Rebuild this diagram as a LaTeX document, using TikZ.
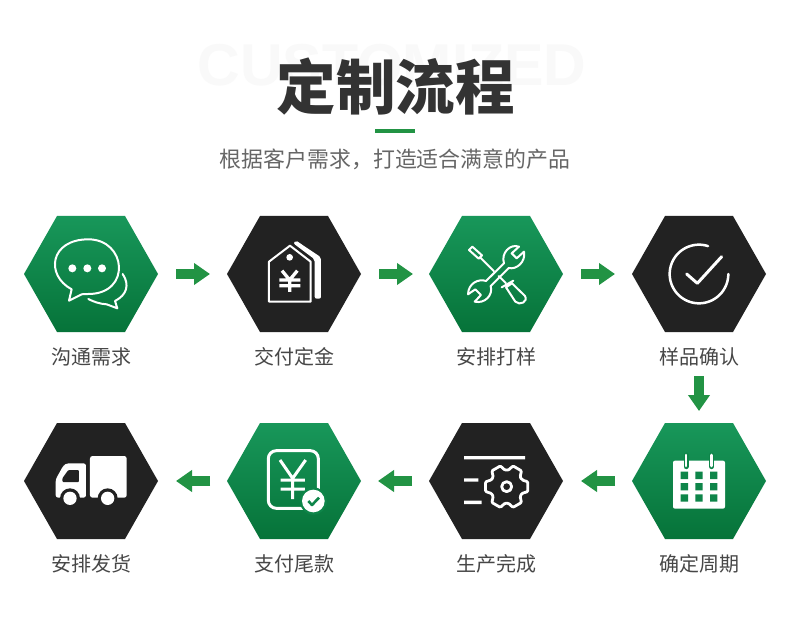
\documentclass[tikz,border=0pt]{standalone}
\usepackage{fontspec}
\usetikzlibrary{arrows.meta}
\newfontfamily\cjk{Noto Sans CJK SC}
\newfontfamily\cjkheavy{Noto Sans CJK SC Black}
\newfontfamily\latinbold{Liberation Sans}
\definecolor{flowgreen}{HTML}{229344}
\definecolor{hextop}{HTML}{18975A}
\definecolor{hexbot}{HTML}{067339}
\definecolor{hexmid}{HTML}{0E8549}
\definecolor{hexdark}{HTML}{222222}
\newcommand\hexshape[2]{\path[#2] (#1.west) -- ([xshift=33pt]#1.north west) -- ([xshift=-33pt]#1.north east) -- (#1.east) -- ([xshift=-33pt]#1.south east) -- ([xshift=33pt]#1.south west) -- cycle;}
\tikzset{
  hexbox/.style={minimum width=134pt,minimum height=116pt,inner sep=0pt,outer sep=0pt},
  hexgreen/.style={top color=hextop,bottom color=hexbot,shading angle=0},
  hexblack/.style={fill=hexdark},
  steplabel/.style={font=\cjk\fontsize{20pt}{20pt}\selectfont,text=black!72,inner sep=0pt},
  flow/.style={draw=flowgreen,line width=10pt,-{Triangle[length=16pt,width=21pt]}},
  ic/.style={draw=white,line join=round,line cap=round},
}
\begin{document}
\begin{tikzpicture}[x=1pt,y=-1pt]
\fill[white] (0,0) rectangle (790,639);
\useasboundingbox (0,0) rectangle (790,639);
% heading
\node[inner sep=0pt,text=black!2.5] (bg) at (392,65) {\latinbold\bfseries\fontsize{59pt}{60pt}\selectfont CUSTOMIZED};
\node[inner sep=0pt,text=black!80] (title) at (395.5,87) {\cjkheavy\fontsize{59.5pt}{60pt}\selectfont 定制流程};
\fill[flowgreen] (375,129) rectangle (415,133);
\node[inner sep=0pt,text=black!60] (sub) at (395,159) {\cjk\fontsize{21.9pt}{22pt}\selectfont 根据客户需求，打造适合满意的产品};
% hexagons
\node[hexbox] (h1) at (91,274) {};
\node[hexbox] (h2) at (294,274) {};
\node[hexbox] (h3) at (496,274) {};
\node[hexbox] (h4) at (699,274) {};
\node[hexbox] (h5) at (699,481) {};
\node[hexbox] (h6) at (496,481) {};
\node[hexbox] (h7) at (294,481) {};
\node[hexbox] (h8) at (91,481) {};
\hexshape{h1}{hexgreen}
\hexshape{h2}{hexblack}
\hexshape{h3}{hexgreen}
\hexshape{h4}{hexblack}
\hexshape{h5}{hexgreen}
\hexshape{h6}{hexblack}
\hexshape{h7}{hexgreen}
\hexshape{h8}{hexblack}
% labels
\node[steplabel] (l1) at (91.5,357) {沟通需求};
\node[steplabel] (l2) at (294.5,357) {交付定金};
\node[steplabel] (l3) at (496.5,357) {安排打样};
\node[steplabel] (l4) at (699,357) {样品确认};
\node[steplabel] (l5) at (699,564) {确定周期};
\node[steplabel] (l6) at (496.5,564) {生产完成};
\node[steplabel] (l7) at (294.5,564) {支付尾款};
\node[steplabel] (l8) at (91.5,564) {安排发货};
% connectors
\draw[flow] ([xshift=18pt]h1.east) -- ([xshift=-17pt]h2.west);
\draw[flow] ([xshift=18pt]h2.east) -- ([xshift=-16pt]h3.west);
\draw[flow] ([xshift=18pt]h3.east) -- ([xshift=-17pt]h4.west);
\draw[flow] ([yshift=-10pt]l4.south) -- ([yshift=12pt]h5.north);
\draw[flow] ([xshift=-17pt]h5.west) -- ([xshift=18pt]h6.east);
\draw[flow] ([xshift=-17pt]h6.west) -- ([xshift=17pt]h7.east);
\draw[flow] ([xshift=-17pt]h7.west) -- ([xshift=18pt]h8.east);
% icon: chat
\begin{scope}[shift={(0,200)},x=0.33333pt,y=-0.33333pt]
\draw[ic,line width=2pt] (215,268) .. controls (135,225) and (150,118) .. (265,118) .. controls (380,118) and (395,282) .. (265,282) .. controls (255,282) and (250,282) .. (245,283) -- (207,302) -- (215,268);
\fill[white] (217,205) circle (12) (262,205) circle (12) (306,205) circle (12);
\draw[ic,line width=2pt] (368,222) .. controls (390,255) and (380,285) .. (345,303) -- (352,325) -- (320,313) .. controls (300,312) and (280,305) .. (265,297);
\end{scope}
% icon: tag
\begin{scope}[shift={(0,200)},x=0.33333pt,y=-0.33333pt]
\fill[white,rounded corners=2pt] (887,121) -- (963,172) -- (963,296) -- (944,296) -- (944,178) -- (880,130) -- cycle;
\draw[ic,line width=2pt,fill=hexdark] (870,137) -- (807,185) -- (807,305) -- (932,305) -- (932,185) -- cycle;
\fill[white] (869,172) circle (10);
\draw[white,line width=3.3pt] (846,212) -- (869,240) -- (892,212) (838,240) -- (901,240) (838,257) -- (901,257) (869,240) -- (869,276);
\end{scope}
% icon: tools
\begin{scope}[shift={(400,200)},x=0.33333pt,y=-0.33333pt]
\draw[ic,line width=2pt] (207,150) -- (217,140) -- (246,166) -- (236,176) -- cycle;
\draw[ic,line width=2pt] (240,172) -- (282,214) (296,228) -- (318,250);
\draw[ic,line width=2pt] (305,262) -- (340,242) (318,262) -- (336,250) -- (375,288) .. controls (385,305) and (360,318) .. (346,305) -- cycle;
\draw[ic,line width=2pt] (312,190) -- (258,243) .. controls (235,235) and (205,250) .. (204,283) -- (226,268) -- (243,285) -- (224,305) .. controls (255,312) and (280,285) .. (272,258) -- (326,204) .. controls (350,210) and (378,185) .. (372,155) -- (350,175) -- (335,160) -- (357,140) .. controls (330,130) and (302,160) .. (312,190) -- cycle;
\end{scope}
% icon: check
\begin{scope}[shift={(400,200)},x=0.33333pt,y=-0.33333pt]
\draw[ic,line width=2.5pt] plot[domain=0:288,samples=60] ({897+88*cos(\x)},{222+88*sin(\x)});
\draw[ic,line width=3pt] (860,222) -- (892,250) -- (965,170);
\end{scope}
% icon: calendar
\begin{scope}[shift={(400,370)},x=0.33333pt,y=-0.33333pt]
\fill[white,rounded corners=2pt] (819,272) rectangle (975,416);
\draw[hexmid,line width=5pt,line cap=round] (858,255) -- (858,290) (935,255) -- (935,290);
\draw[white,line width=2.6pt,line cap=round] (858,255) -- (858,288) (935,255) -- (935,288);
\fill[hexmid] (842,305) rectangle (864,327) (886,305) rectangle (908,327) (930,305) rectangle (952,327)
 (842,339) rectangle (864,361) (886,339) rectangle (908,361) (930,339) rectangle (952,361)
 (842,373) rectangle (864,395) (886,373) rectangle (908,395) (930,373) rectangle (952,395);
\end{scope}
% icon: gear
\begin{scope}[shift={(400,370)},x=0.33333pt,y=-0.33333pt]
\fill[white] (192,258) rectangle (375,268) (192,325) rectangle (235,335) (192,392) rectangle (245,402);
\draw[ic,line width=2.8pt] (320,350) circle (15);
\draw[ic,line width=2.8pt,rounded corners=1pt] ({320+50*cos(-24)},{350+50*sin(-24)})
 \foreach \a in {0,60,120,180,240,300}{ -- ({320+65*cos(\a-13)},{350+65*sin(\a-13)}) -- ({320+65*cos(\a+13)},{350+65*sin(\a+13)}) -- ({320+50*cos(\a+24)},{350+50*sin(\a+24)}) -- ({320+50*cos(\a+36)},{350+50*sin(\a+36)}) } -- cycle;
\end{scope}
% icon: receipt
\begin{scope}[shift={(0,410)},x=0.33333pt,y=-0.33333pt]
\draw[white,line width=3pt,rounded corners=8pt] (805,122) rectangle (955,295);
\draw[white,line width=3pt] (840,150) -- (878,205) -- (917,150) (842,210) -- (915,210) (842,237) -- (915,237) (878,205) -- (878,267);
\fill[hexmid] (940,273) circle (41);
\fill[white] (940,273) circle (34);
\draw[hexmid,line width=2.6pt,line join=round] (925,273) -- (936,285) -- (957,263);
\end{scope}
% icon: truck
\begin{scope}[shift={(0,410)},x=0.33333pt,y=-0.33333pt]
\fill[white,rounded corners=2.5pt] (270,138) rectangle (380,263);
\fill[white,rounded corners=2.5pt] (167,263) -- (167,208) -- (190,167) -- (200,160) -- (258,160) -- (258,263) -- cycle;
\fill[hexdark,rounded corners=1pt] (187,216) -- (187,205) -- (205,180) -- (237,180) -- (237,216) -- cycle;
\fill[hexdark] (210,265) circle (30) (323,265) circle (30);
\fill[white] (210,265) circle (20) (323,265) circle (20);
\end{scope}
\end{tikzpicture}
\end{document}
